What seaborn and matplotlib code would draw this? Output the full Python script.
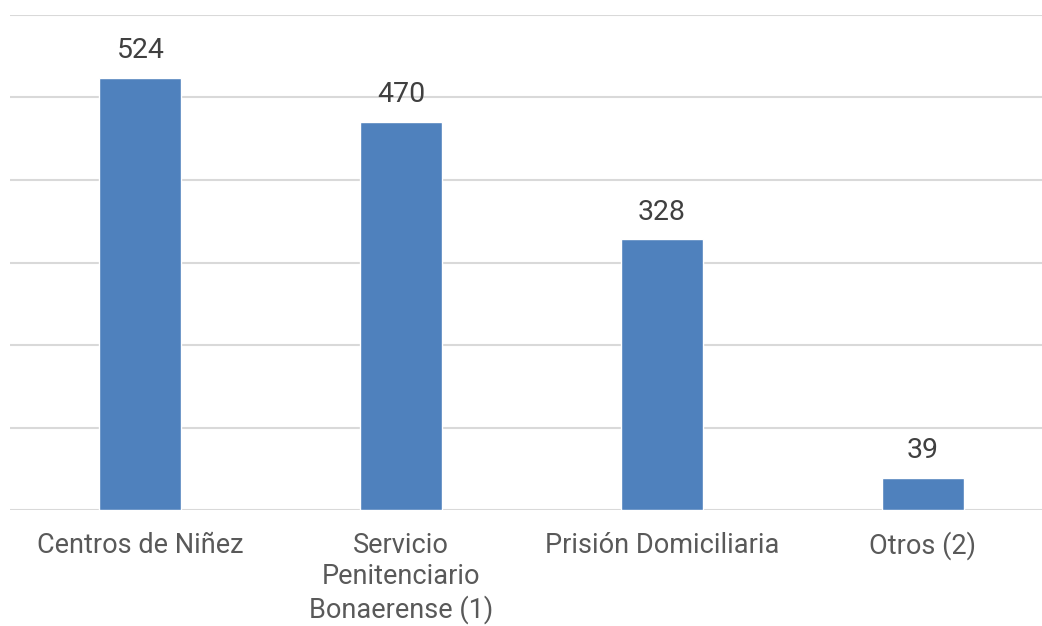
import seaborn as sns
import matplotlib.pyplot as plt
import pandas as pd

# chart data
categories = ['Centros de Niñez', 'Servicio\nPenitenciario\nBonaerense (1)',
              'Prisión Domiciliaria', 'Otros (2)']
values = [524, 470, 328, 39]
bar_color = '#4F81BD'

data = pd.DataFrame({'categoria': categories, 'cantidad': values})

# style
sns.set_style('white')
plt.rcParams['font.family'] = ['Roboto', 'DejaVu Sans']

fig = plt.figure(figsize=(10.42, 6.26), dpi=100)
ax = fig.add_axes([10 / 1042, 116 / 626, 1043 / 1042, 495 / 626])

sns.barplot(data=data, x='categoria', y='cantidad', color=bar_color,
            width=0.315, saturation=1, ax=ax, zorder=3)

# gridlines
ax.set_ylim(0, 600)
ax.set_yticks(range(0, 601, 100))
ax.yaxis.grid(True, color='#D9D9D9', linewidth=1.5, zorder=0)
ax.set_xlim(-0.5, 3.5)
for s in ax.spines.values():
    s.set_visible(False)
ax.tick_params(axis='y', left=False, labelleft=False)
ax.tick_params(axis='x', bottom=False, pad=12, labelsize=19.5, labelcolor='#595959')
for lbl in ax.get_xticklabels():
    lbl.set_verticalalignment('top')
    lbl.set_linespacing(1.22)

# value labels
for i, v in enumerate(values):
    ax.annotate(str(v), (i, v), xytext=(0, 10), textcoords='offset points',
                ha='center', va='bottom', fontsize=20.5, color='#404040')

ax.set_xlabel('')
ax.set_ylabel('')

fig.savefig('out.png', dpi=100)
plt.close()
